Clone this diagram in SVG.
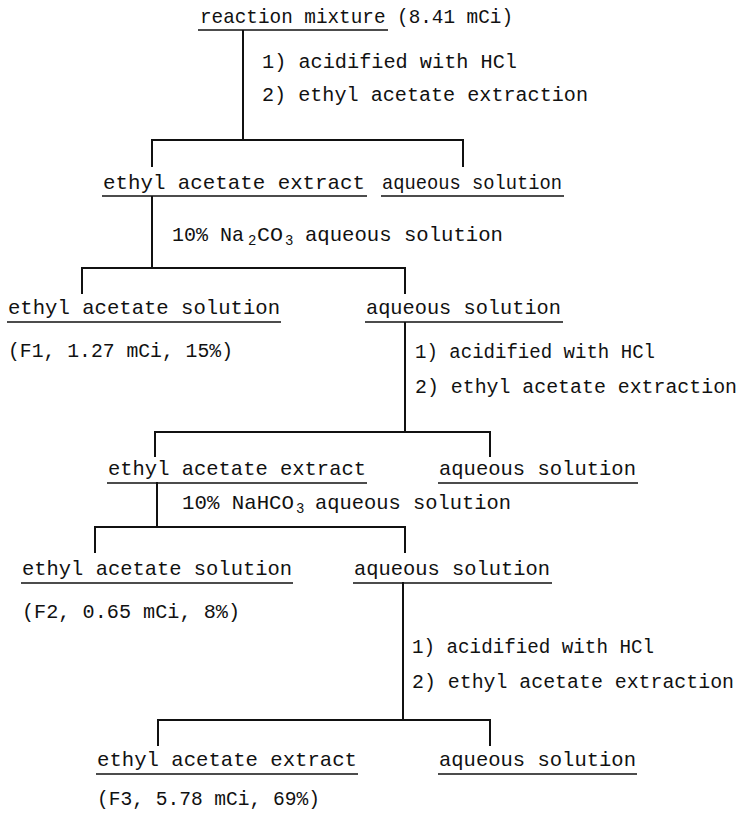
<svg xmlns="http://www.w3.org/2000/svg" width="745" height="815" viewBox="0 0 745 815">
<style>
text{font-family:"Liberation Mono","DejaVu Sans Mono",monospace;font-size:21px;fill:#111}
.st{font-size:20px}
.sub{font-size:14px}
.c line{stroke:#111;stroke-width:2;stroke-linecap:square}
.u{stroke:#111;stroke-width:1.6}
</style>
<rect width="745" height="815" fill="#fff"/>
<g class="c" id="connectors">
<line x1="243" y1="31" x2="243" y2="140"/>
<line x1="152" y1="140" x2="463" y2="140"/>
<line x1="152" y1="140" x2="152" y2="166"/>
<line x1="463" y1="140" x2="463" y2="166"/>
<line x1="152" y1="197" x2="152" y2="268"/>
<line x1="82" y1="268" x2="405" y2="268"/>
<line x1="82" y1="268" x2="82" y2="293"/>
<line x1="405" y1="268" x2="405" y2="293"/>
<line x1="405" y1="323" x2="405" y2="432"/>
<line x1="155" y1="432" x2="490" y2="432"/>
<line x1="155" y1="432" x2="155" y2="456"/>
<line x1="490" y1="432" x2="490" y2="456"/>
<line x1="157" y1="483" x2="157" y2="527"/>
<line x1="95" y1="527" x2="405" y2="527"/>
<line x1="95" y1="527" x2="95" y2="552"/>
<line x1="405" y1="527" x2="405" y2="552"/>
<line x1="403" y1="583" x2="403" y2="720"/>
<line x1="158" y1="720" x2="490" y2="720"/>
<line x1="158" y1="720" x2="158" y2="745"/>
<line x1="490" y1="720" x2="490" y2="745"/>
</g>
<g id="n-reaction">
<text x="200" y="23" textLength="313" lengthAdjust="spacingAndGlyphs">reaction mixture (8.41 mCi)</text>
<line class="u" x1="198" y1="30" x2="388" y2="30"/>
</g>
<g id="step1">
<text class="st" x="262" y="68" textLength="255" lengthAdjust="spacingAndGlyphs">1) acidified with HCl</text>
<text class="st" x="262" y="101" textLength="326" lengthAdjust="spacingAndGlyphs">2) ethyl acetate extraction</text>
</g>
<g id="n-extract1">
<text x="103" y="189" textLength="262" lengthAdjust="spacingAndGlyphs">ethyl acetate extract</text>
<line class="u" x1="102" y1="196" x2="367" y2="196"/>
</g>
<g id="n-aq1">
<text x="382" y="189" textLength="180" lengthAdjust="spacingAndGlyphs">aqueous solution</text>
<line class="u" x1="381" y1="196" x2="564" y2="196"/>
</g>
<g id="step2">
<text x="172" y="241" textLength="72" lengthAdjust="spacingAndGlyphs">10% Na</text>
<text class="sub" x="248" y="245">2</text>
<text x="257" y="241" textLength="26" lengthAdjust="spacingAndGlyphs">CO</text>
<text class="sub" x="285" y="245">3</text>
<text x="305" y="241" textLength="198" lengthAdjust="spacingAndGlyphs">aqueous solution</text>
</g>
<g id="n-sol1">
<text x="8" y="314" textLength="272" lengthAdjust="spacingAndGlyphs">ethyl acetate solution</text>
<line class="u" x1="7" y1="322" x2="281" y2="322"/>
<text x="8" y="357" textLength="225" lengthAdjust="spacingAndGlyphs">(F1, 1.27 mCi, 15%)</text>
</g>
<g id="n-aq2">
<text x="366" y="314" textLength="195" lengthAdjust="spacingAndGlyphs">aqueous solution</text>
<line class="u" x1="365" y1="322" x2="563" y2="322"/>
</g>
<g id="step3">
<text class="st" x="415" y="358" textLength="240" lengthAdjust="spacingAndGlyphs">1) acidified with HCl</text>
<text class="st" x="415" y="393" textLength="322" lengthAdjust="spacingAndGlyphs">2) ethyl acetate extraction</text>
</g>
<g id="n-extract2">
<text x="108" y="475" textLength="258" lengthAdjust="spacingAndGlyphs">ethyl acetate extract</text>
<line class="u" x1="107" y1="483" x2="367" y2="483"/>
</g>
<g id="n-aq3">
<text x="439" y="475" textLength="197" lengthAdjust="spacingAndGlyphs">aqueous solution</text>
<line class="u" x1="438" y1="483" x2="638" y2="483"/>
</g>
<g id="step4">
<text x="182" y="509" textLength="112" lengthAdjust="spacingAndGlyphs">10% NaHCO</text>
<text class="sub" x="296" y="513">3</text>
<text x="315" y="509" textLength="196" lengthAdjust="spacingAndGlyphs">aqueous solution</text>
</g>
<g id="n-sol2">
<text x="22" y="575" textLength="270" lengthAdjust="spacingAndGlyphs">ethyl acetate solution</text>
<line class="u" x1="21" y1="583" x2="293" y2="583"/>
<text x="22" y="618" textLength="218" lengthAdjust="spacingAndGlyphs">(F2, 0.65 mCi, 8%)</text>
</g>
<g id="n-aq4">
<text x="354" y="575" textLength="196" lengthAdjust="spacingAndGlyphs">aqueous solution</text>
<line class="u" x1="353" y1="583" x2="552" y2="583"/>
</g>
<g id="step5">
<text class="st" x="412" y="653" textLength="242" lengthAdjust="spacingAndGlyphs">1) acidified with HCl</text>
<text class="st" x="412" y="688" textLength="322" lengthAdjust="spacingAndGlyphs">2) ethyl acetate extraction</text>
</g>
<g id="n-extract3">
<text x="97" y="766" textLength="260" lengthAdjust="spacingAndGlyphs">ethyl acetate extract</text>
<line class="u" x1="96" y1="774" x2="358" y2="774"/>
<text x="97" y="805" textLength="223" lengthAdjust="spacingAndGlyphs">(F3, 5.78 mCi, 69%)</text>
</g>
<g id="n-aq5">
<text x="439" y="766" textLength="197" lengthAdjust="spacingAndGlyphs">aqueous solution</text>
<line class="u" x1="438" y1="774" x2="637" y2="774"/>
</g>
</svg>
